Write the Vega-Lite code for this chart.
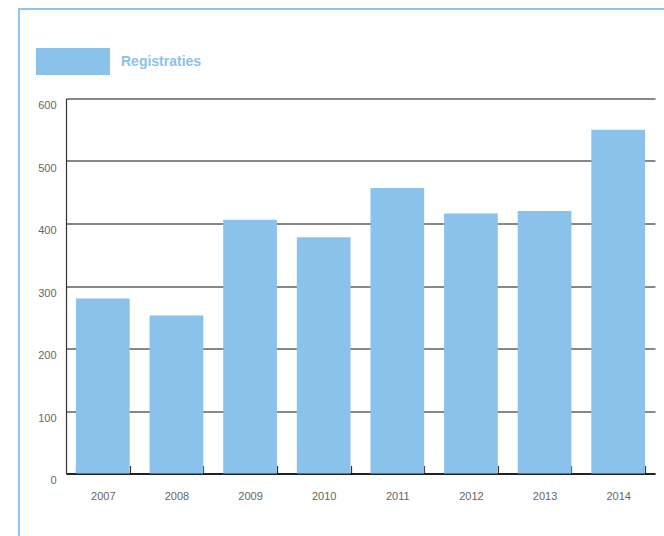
{
  "$schema": "https://vega.github.io/schema/vega-lite/v6.json",
  "width": 589,
  "height": 375,
  "autosize": {"type": "none"},
  "padding": {"left": 66, "top": 98.5, "right": 9, "bottom": 62.5},
  "background": "white",
  "config": {
    "font": "Liberation Sans",
    "view": {"stroke": null},
    "legend": {"strokeWidth": 2}
  },
  "data": {
    "values": [
      {"year": "2007", "registraties": 280},
      {"year": "2008", "registraties": 253},
      {"year": "2009", "registraties": 406},
      {"year": "2010", "registraties": 378},
      {"year": "2011", "registraties": 457},
      {"year": "2012", "registraties": 416},
      {"year": "2013", "registraties": 420},
      {"year": "2014", "registraties": 550}
    ]
  },
  "mark": {"type": "bar"},
  "encoding": {
    "x": {
      "field": "year",
      "type": "nominal",
      "scale": {"paddingInner": 0.27, "paddingOuter": 0.135},
      "axis": {
        "title": null,
        "labelAngle": 0,
        "labelColor": "#666666",
        "labelFontSize": 11,
        "labelPadding": 25,
        "domainColor": "#000000",
        "domainWidth": 1.5,
        "tickBand": "extent",
        "tickSize": -8,
        "tickColor": "#333333",
        "tickWidth": 1.2,
        "grid": false
      }
    },
    "y": {
      "field": "registraties",
      "type": "quantitative",
      "scale": {"domain": [0, 600], "nice": false},
      "axis": {
        "title": null,
        "values": [0, 100, 200, 300, 400, 500, 600],
        "labelColor": "#666666",
        "labelFontSize": 11,
        "labelPadding": 10,
        "labelOffset": 7,
        "labelBaseline": "middle",
        "ticks": false,
        "domainColor": "#333333",
        "domainWidth": 1.2,
        "grid": true,
        "gridColor": "#111111",
        "gridWidth": 1.2
      }
    },
    "color": {
      "datum": "Registraties",
      "scale": {"range": ["#8BC2EB"]},
      "legend": {
        "title": null,
        "orient": "none",
        "legendX": -30,
        "legendY": -74,
        "padding": 0,
        "symbolType": "M-1,-0.365H1V0.365H-1Z",
        "symbolSize": 5476,
        "symbolStrokeWidth": 0,
        "labelOffset": 11,
        "labelFontSize": 14,
        "labelFontWeight": "bold",
        "labelColor": "#8BC2EB"
      }
    },
    "opacity": {
      "field": "year",
      "type": "nominal",
      "scale": {"range": [1]},
      "legend": {
        "title": null,
        "orient": "none",
        "legendX": -47,
        "legendY": -89.5,
        "padding": 700,
        "strokeColor": "#8EC5EC",
        "fillColor": null,
        "labelExpr": "''",
        "symbolOpacity": 0
      }
    }
  }
}
